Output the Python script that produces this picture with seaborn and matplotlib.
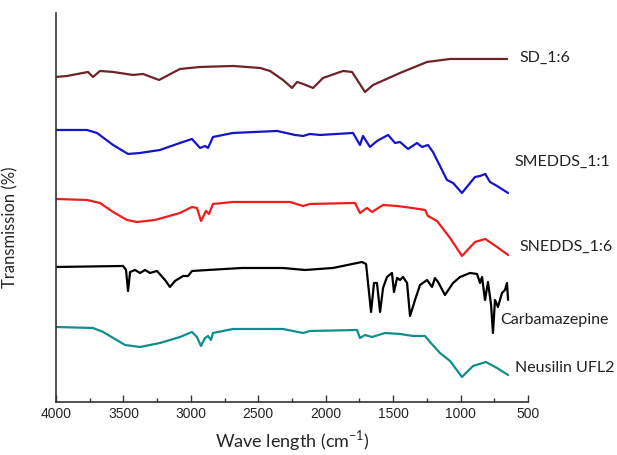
import numpy as np
import pandas as pd
import matplotlib
matplotlib.use("Agg")
import matplotlib.pyplot as plt
import seaborn as sns

# === data (wavenumber cm-1, stacked transmission, arbitrary units) ===
sd_wn = [4000, 3918, 3763, 3726, 3674, 3577, 3429, 3355, 3236, 3081, 2932, 2688, 2487, 2413,
         2317, 2250, 2213, 2168, 2094, 2020, 1872, 1805, 1709, 1649, 1449, 1249, 1078, 655]
sd_t = [325, 326, 330, 325, 331, 330, 327, 328, 322, 333, 335, 336, 334, 331,
        322, 314, 320, 318, 314, 324, 331, 330, 310, 317, 329, 340, 343, 343]

smedds_wn = [4000, 3770, 3696, 3577, 3466, 3377, 3229, 3081, 2992, 2932, 2895, 2873, 2836, 2688,
             2361, 2228, 2168, 2117, 2042, 1798, 1746, 1724, 1672, 1620, 1538, 1486, 1449, 1390,
             1323, 1286, 1242, 1205, 1101, 1056, 990, 893, 856, 817, 782, 730, 648]
smedds_t = [272, 272, 269, 257, 248, 249, 252, 259, 263, 254, 256, 254, 265, 269,
            271, 267, 266, 268, 267, 269, 257, 266, 255, 261, 267, 259, 260, 253,
            259, 255, 257, 250, 222, 219, 209, 225, 226, 228, 220, 216, 209]

snedds_wn = [4000, 3770, 3674, 3577, 3474, 3399, 3266, 3081, 2992, 2955, 2925, 2888, 2866, 2836,
             2688, 2265, 2168, 2117, 1783, 1746, 1694, 1657, 1575, 1471, 1360, 1264, 1242, 1175,
             1078, 990, 893, 817, 730, 648]
snedds_t = [203, 202, 199, 190, 182, 180, 182, 189, 195, 194, 181, 191, 188, 198,
            200, 200, 196, 198, 199, 189, 194, 190, 197, 196, 194, 192, 186, 181,
            164, 146, 160, 163, 155, 147]

cbz_wn = [4000, 3503, 3481, 3466, 3451, 3414, 3377, 3340, 3303, 3251, 3192, 3155, 3118, 3058,
          3021, 2992, 2873, 2621, 2317, 2154, 1946, 1731, 1701, 1664, 1642, 1620, 1597, 1575,
          1546, 1509, 1494, 1471, 1449, 1427, 1397, 1375, 1338, 1301, 1249, 1212, 1190, 1167,
          1116, 1056, 1004, 930, 878, 856, 841, 819, 797, 774, 760, 745, 723, 693, 671, 656, 648]
cbz_t = [135, 136, 132, 111, 130, 132, 129, 132, 129, 131, 122, 115, 121, 126,
         126, 131, 132, 134, 134, 132, 134, 140, 138, 90, 119, 119, 90, 114,
         125, 129, 110, 124, 122, 125, 119, 86, 102, 117, 122, 115, 124, 120,
         107, 119, 125, 129, 128, 119, 125, 102, 120, 97, 69, 102, 95, 109, 112, 119, 102]

neu_wn = [4000, 3726, 3651, 3488, 3377, 3229, 3081, 2992, 2955, 2925, 2895, 2873, 2851, 2836,
          2688, 2317, 2168, 2117, 1768, 1746, 1709, 1657, 1560, 1449, 1353, 1264, 1227, 1153,
          1078, 990, 908, 812, 730, 648]
neu_t = [75, 74, 70, 57, 55, 59, 65, 70, 65, 56, 64, 66, 62, 69,
         73, 73, 69, 71, 72, 64, 67, 65, 69, 68, 66, 66, 60, 49,
         41, 25, 36, 40, 34, 27]

samples = ["SD_1:6", "SMEDDS_1:1", "SNEDDS_1:6", "Carbamazepine", "Neusilin UFL2"]
colors = ["#6e2326", "#1414c8", "#f01c1c", "#000000", "#0f8f8c"]

# label anchors (wavenumber, transmission)
label_wn = [567, 597, 567, 708, 597]
label_t = [344, 240, 155, 82, 34]

frames = []
for name, wn, t in zip(samples,
                       [sd_wn, smedds_wn, snedds_wn, cbz_wn, neu_wn],
                       [sd_t, smedds_t, snedds_t, cbz_t, neu_t]):
    frames.append(pd.DataFrame({"wn": wn, "t": t, "sample": name}))
df = pd.concat(frames, ignore_index=True)

# === plot ===
sns.set_style("white")
plt.rcParams["font.family"] = ["Liberation Sans", "DejaVu Sans"]
plt.rcParams["mathtext.fontset"] = "custom"
plt.rcParams["mathtext.rm"] = "Lato"

label_font = ["Lato", "DejaVu Sans"]

fig = plt.figure(figsize=(6.17, 4.55), dpi=100)
ax = fig.add_axes([0.0908, 0.1165, 0.765, 0.855])

sns.lineplot(data=df, x="wn", y="t", hue="sample", hue_order=samples,
             palette=colors, sort=False, estimator=None, legend=False,
             linewidth=1.6, ax=ax)

for name, x, y in zip(samples, label_wn, label_t):
    ax.text(x, y, name, ha="left", va="center", fontsize=11.5,
            family=label_font, color="#222222", clip_on=False)

ax.set_xlim(4000, 500)
ax.set_ylim(0, 389)
ax.set_xticks(np.arange(4000, 499, -500))
ax.set_xticks(np.arange(3750, 500, -500), minor=True)
ax.set_yticks([])
ax.tick_params(axis="x", which="major", direction="in", length=5, width=1,
               labelsize=10, color="#333333", bottom=True)
ax.tick_params(axis="x", which="minor", direction="in", length=3, width=1,
               color="#333333", bottom=True)

for side in ["top", "right"]:
    ax.spines[side].set_visible(False)
for side in ["left", "bottom"]:
    ax.spines[side].set_color("#333333")
    ax.spines[side].set_linewidth(1.2)

ax.set_xlabel(r"Wave length (cm$^{-1}$)", fontsize=13,
              family=label_font, labelpad=5)
ax.set_ylabel("Transmission (%)", fontsize=12, family=label_font)
ax.yaxis.set_label_coords(-0.08, 0.45)

fig.savefig("out.png", dpi=100)
